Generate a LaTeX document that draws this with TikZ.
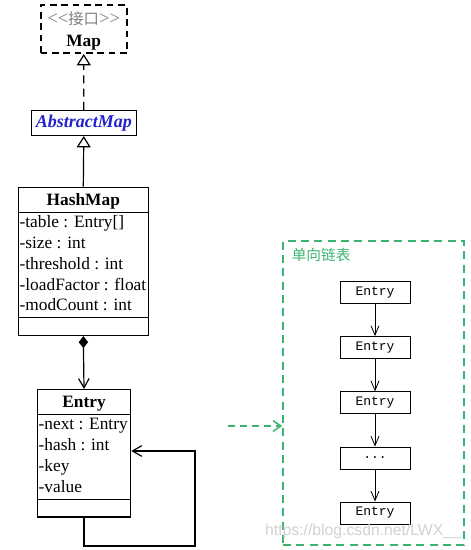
\documentclass[tikz,border=0pt]{standalone}
\usepackage{fontspec}
\setmainfont{Liberation Serif}
\setmonofont{Liberation Mono}
\newfontfamily\cjkfont{Noto Sans CJK SC}
\newfontfamily\wmfont{Liberation Sans}
\usetikzlibrary{arrows.meta,positioning,shapes.multipart}

\newcommand{\titlestrut}{\rule[-4.8pt]{0pt}{18pt}}
\newcommand{\emptystrut}{\rule{0pt}{12.5pt}}

\tikzset{every picture/.style={line width=0.75pt}}
\tikzset{
  umlclass/.style={draw, line width=0.9pt, rectangle split, rectangle split parts=3,
    rectangle split part align={center,left,left}, inner xsep=1pt, inner ysep=0pt,
    font=\fontsize{13}{15.6}\selectfont},
  ifacebox/.style={draw, line width=1.2pt, dash pattern={on 5pt off 3.5pt}, align=center,
    minimum width=64.5pt, minimum height=36pt, inner sep=0pt, text depth=0pt,
    font=\fontsize{13}{17}\selectfont},
  absbox/.style={draw, line width=0.8pt, minimum width=78.75pt, minimum height=18.75pt, inner sep=0pt,
    text={rgb, 255:red, 34; green, 34; blue, 204}, font=\fontsize{13.5}{16}\selectfont\bfseries\itshape},
  chainbox/.style={draw, line width=0.7pt, minimum width=52.5pt, minimum height=16.5pt, inner sep=0pt,
    font=\ttfamily\fontsize{9.75}{12}\selectfont},
  listbox/.style={draw={rgb, 255:red, 60; green, 180; blue, 110}, line width=1.1pt,
    dash pattern={on 6pt off 4pt}, minimum width=135.75pt, minimum height=228pt, inner sep=0pt},
  realize/.style={line width=0.9pt, dash pattern={on 6pt off 4pt}, -{Triangle[open,length=8.5pt,width=10.5pt,fill=white]}},
  inherit/.style={line width=0.9pt, -{Triangle[open,length=8.5pt,width=10.5pt,fill=white]}},
  assoc/.style={line width=0.9pt, {Diamond[length=9pt,width=7pt]}-{Straight Barb[length=7pt,width=8pt]}},
  selfarrow/.style={line width=0.9pt, -{Straight Barb[length=7pt,width=8pt]}},
  chainarrow/.style={line width=0.6pt, -{Straight Barb[length=7pt,width=6pt]}},
  linkarrow/.style={draw={rgb, 255:red, 60; green, 180; blue, 110}, line width=1.1pt,
    dash pattern={on 5pt off 4pt}, -{Straight Barb[length=6pt,width=8pt]}}
}

\begin{document}
\begin{tikzpicture}[x=0.75pt,y=0.75pt,yscale=-1,xscale=1]
\useasboundingbox (0,0) rectangle (471,550);

% Interface
\node [ifacebox] (map) at (83.7,29.2) {\textcolor[rgb]{0.5,0.5,0.5}{\fontsize{14}{17}\selectfont<{}<{\cjkfont\fontsize{11.5}{17}\selectfont 接口}>{}>}\\\textbf{Map}};
% Abstract class
\node [absbox] (absmap) at (83.8,123) {AbstractMap};
% HashMap class
\node [umlclass, minimum width=97.5pt, anchor=north] (hashmap) at (83.3,186.7)
  {\titlestrut\textbf{HashMap}
   \nodepart{two}\begin{tabular}{@{}l@{}}-table : Entry[]\\-size : int\\-threshold : int\\-loadFactor : float\\-modCount : int\end{tabular}
   \nodepart{three}\emptystrut};
% Entry class
\node [umlclass, minimum width=70pt, anchor=north] (entry) at (84,389)
  {\titlestrut\textbf{Entry}
   \nodepart{two}\begin{tabular}{@{}l@{}}-next : Entry\\-hash : int\\-key\\-value\end{tabular}
   \nodepart{three}\emptystrut};

% Relations
\draw [realize] (absmap) -- (map);
\draw [inherit] (hashmap.north) -- (absmap.south);
\draw [assoc] (hashmap.south) -- (entry.north);
\coordinate (loopbottom) at (195,546);
\coordinate (looptop) at (195,451);
\draw [selfarrow] (entry.south) |- (loopbottom) |- (entry.east |- looptop);

% Linked list
\node [listbox] (list) at (373.5,393) {};
\node [anchor=north west, inner sep=0pt, text={rgb, 255:red, 60; green, 180; blue, 110},
  font=\cjkfont\fontsize{11}{13}\selectfont] (listlabel) at ([shift={(9,7)}]list.north west) {单向链表};
\node [chainbox] (e1) at (375,292.5) {Entry};
\node [chainbox] (e2) at (375,347.5) {Entry};
\node [chainbox] (e3) at (375,402.8) {Entry};
\node [chainbox] (e4) at (375,458) {...};
\node [chainbox] (e5) at (375,513) {Entry};
\draw [chainarrow] (e1) -- (e2);
\draw [chainarrow] (e2) -- (e3);
\draw [chainarrow] (e3) -- (e4);
\draw [chainarrow] (e4) -- (e5);

\coordinate (linkstart) at (228,426);
\draw [linkarrow] (linkstart) -- (linkstart -| list.west);

% Watermark
\node [font=\wmfont\fontsize{11.8}{14}\selectfont, text=black!18, inner sep=0pt] (watermark) at (363,531) {https://blog.csdn.net/LWX\_\_};

\end{tikzpicture}
\end{document}
